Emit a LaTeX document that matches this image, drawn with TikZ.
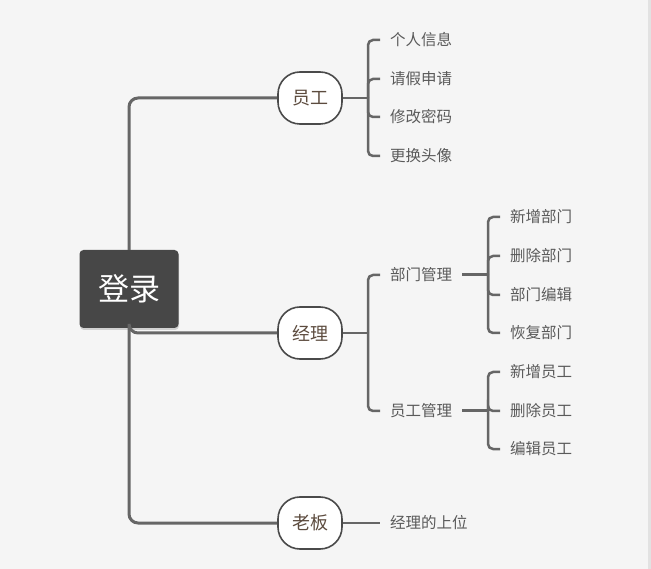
\documentclass[tikz,border=0pt]{standalone}
\usepackage{fontspec}
\setmainfont{Noto Sans CJK SC}
\usetikzlibrary{positioning,shadows}

\definecolor{paper}{HTML}{F5F5F5}
\definecolor{edgestrip}{HTML}{E2E2E2}
\definecolor{rootfill}{HTML}{474747}
\definecolor{wire}{HTML}{666666}
\definecolor{ring}{HTML}{4A4A4A}
\definecolor{topictext}{HTML}{5C4B3E}
\definecolor{leaftext}{HTML}{5A5A5A}

\begin{document}
\begin{tikzpicture}[x=1pt,y=-1pt,
    root/.style={fill=rootfill, rounded corners=4pt, minimum width=99pt, minimum height=78pt,
      text=white, font=\fontsize{31}{36}\selectfont,
      drop shadow={opacity=0.3, shadow xshift=0.5pt, shadow yshift=-2pt}},
    topic/.style={draw=ring, line width=1.6pt, fill=white, rounded corners=22pt,
      minimum width=64pt, minimum height=52pt, text=topictext, font=\fontsize{18}{22}\selectfont},
    leaf/.style={anchor=west, inner xsep=10pt, inner ysep=2pt, text=leaftext,
      font=\fontsize{15.5}{19}\selectfont},
    trunk/.style={draw=wire, line width=3pt, rounded corners=9pt},
    branch/.style={draw=wire, line width=2.5pt, rounded corners=5pt},
    stub/.style={draw=wire, line width=3pt}]

  % page
  \fill[paper] (0,0) rectangle (651,569);
  \fill[edgestrip] (648,0) rectangle (651,569);

  % main nodes
  \node[root] (login) at (129,289) {登录};
  \node[topic] (yg) at (310,98) {员工};
  \node[topic] (jl) at (310,333) {经理};
  \node[topic] (lb) at (310,523) {老板};

  % trunk
  \draw[trunk] (login.north) |- (yg.west);
  \draw[trunk] (login.south) |- (jl.west);
  \draw[trunk] (login.south) |- (lb.west);

  % employee
  \node[leaf] (grxx) at (380,40) {个人信息};
  \node[leaf] (qjsq) at (380,79) {请假申请};
  \node[leaf] (xgmm) at (380,117) {修改密码};
  \node[leaf] (ghtx) at (380,156) {更换头像};
  \coordinate (yg-j) at (368,98);
  \draw[branch] (yg.east) -- (yg-j);
  \foreach \c in {grxx,qjsq,xgmm,ghtx}
    \draw[branch] (yg-j) |- (\c.west);

  % manager
  \node[leaf] (bmgl) at (380,275) {部门管理};
  \node[leaf] (yggl) at (380,411) {员工管理};
  \coordinate (jl-j) at (368,333);
  \draw[branch] (jl.east) -- (jl-j);
  \foreach \c in {bmgl,yggl}
    \draw[branch] (jl-j) |- (\c.west);

  \node[leaf] (xzbm) at (500,217) {新增部门};
  \node[leaf] (scbm) at (500,256) {删除部门};
  \node[leaf] (bmbj) at (500,295) {部门编辑};
  \node[leaf] (hfbm) at (500,333) {恢复部门};
  \coordinate (bm-j) at (488,275);
  \draw[stub] (bmgl.east) -- (bm-j);
  \foreach \c in {xzbm,scbm,bmbj,hfbm}
    \draw[branch] (bm-j) |- (\c.west);

  \node[leaf] (xzyg) at (500,372) {新增员工};
  \node[leaf] (scyg) at (500,411) {删除员工};
  \node[leaf] (bjyg) at (500,449) {编辑员工};
  \coordinate (ygl-j) at (488,411);
  \draw[stub] (yggl.east) -- (ygl-j);
  \foreach \c in {xzyg,scyg,bjyg}
    \draw[branch] (ygl-j) |- (\c.west);

  % boss
  \node[leaf] (jlsw) at (380,523) {经理的上位};
  \draw[draw=wire, line width=2pt] (lb.east) -- (jlsw.west);
\end{tikzpicture}
\end{document}
